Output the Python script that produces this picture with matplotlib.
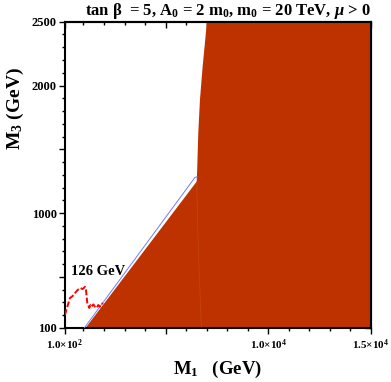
import matplotlib
matplotlib.use("Agg")
import matplotlib.pyplot as plt
from matplotlib.ticker import FixedLocator, FixedFormatter, MultipleLocator

plt.rcParams['font.family'] = ['Liberation Serif', 'DejaVu Serif']
plt.rcParams['font.weight'] = 'bold'
plt.rcParams['mathtext.fontset'] = 'custom'
plt.rcParams['mathtext.rm'] = 'Liberation Serif:bold'
plt.rcParams['mathtext.bf'] = 'Liberation Serif:bold'
plt.rcParams['mathtext.it'] = 'Liberation Serif:italic:bold'

# excluded region boundary (M1, M3) in GeV
region_m1 = [1100, 6513, 6542, 6591, 6672, 6802, 6963, 7000, 15000, 15000]
region_m3 = [100, 1247, 1363, 1629, 1888, 2147, 2414, 2500, 2500, 100]

# faint inner contour inside the region
inner_m1 = [6513, 6560, 6620, 6680, 6740]
inner_m3 = [1247, 900, 600, 350, 100]

# thin blue contour along the diagonal edge
blue_m1 = [1040, 6430, 6527]
blue_m3 = [100, 1280, 1284]

# m_h = 126 GeV contour
higgs_m1 = [100, 197, 343, 470, 587, 700, 830, 960, 1074, 1122, 1186, 1283,
            1340, 1400, 1480, 1561, 1643, 1720, 1804, 1880, 1950]
higgs_m3 = [202, 257, 335, 350, 374, 395, 414, 405, 422, 398, 296, 257,
            280, 267, 285, 267, 257, 280, 267, 285, 296]

x_ticks = [100, 5000, 10000, 15000]
x_labels = [r'1.0$\times$10$^{2}$', '', r'1.0$\times$10$^{4}$', r'1.5$\times$10$^{4}$']
y_ticks = [100, 500, 1000, 1500, 2000, 2500]
y_labels = ['100', '', '1000', '', '2000', '2500']

RED = '#BE3200'

fig = plt.figure(figsize=(3.91, 3.82), dpi=100)
ax = fig.add_axes([0.1662, 0.1414, 0.7826, 0.8018])

ax.fill(region_m1, region_m3, color=RED, lw=0, zorder=2)
ax.plot(inner_m1, inner_m3, color='#D05A30', lw=0.6, alpha=0.4, zorder=3)
ax.plot(blue_m1, blue_m3, color='#6F7CFF', lw=0.7, zorder=3)
ax.plot(higgs_m1, higgs_m3, color='#FF0000', lw=1.4, ls=(0, (3, 1.2)), zorder=4)

ax.text(1700, 545, '126 GeV', fontsize=10.5, fontweight='bold',
        ha='center', va='center', zorder=5)

ax.set_xlim(100, 15000)
ax.set_ylim(100, 2500)

ax.xaxis.set_major_locator(FixedLocator(x_ticks))
ax.xaxis.set_major_formatter(FixedFormatter(x_labels))
ax.xaxis.set_minor_locator(MultipleLocator(1000))
ax.yaxis.set_major_locator(FixedLocator(y_ticks))
ax.yaxis.set_major_formatter(FixedFormatter(y_labels))
ax.yaxis.set_minor_locator(MultipleLocator(100))

ax.tick_params(which='both', direction='out', width=1.0, pad=2)
ax.tick_params(axis='y', labelsize=9)
ax.tick_params(axis='x', labelsize=8, pad=3)
ax.tick_params(which='major', length=4)
ax.tick_params(which='minor', length=2)
for lab in ax.get_xticklabels() + ax.get_yticklabels():
    lab.set_fontweight('bold')

# mirrored inward ticks on top and right
top = ax.secondary_xaxis('top')
top.xaxis.set_major_locator(FixedLocator(x_ticks))
top.xaxis.set_minor_locator(MultipleLocator(1000))
top.tick_params(which='both', direction='in', labeltop=False, width=1.0)
top.tick_params(which='major', length=4)
top.tick_params(which='minor', length=2)
right = ax.secondary_yaxis('right')
right.yaxis.set_major_locator(FixedLocator(y_ticks))
right.yaxis.set_minor_locator(MultipleLocator(100))
right.tick_params(which='both', direction='in', labelright=False, width=1.0)
right.tick_params(which='major', length=4)
right.tick_params(which='minor', length=2)

for sp in list(ax.spines.values()):
    sp.set_linewidth(1.5)
top.spines['top'].set_linewidth(1.5)
right.spines['right'].set_linewidth(1.5)

ax.set_xlabel(r'M$_1$   (GeV)', fontsize=13.5, fontweight='bold', labelpad=5)
fig.text(0.04, 0.715, r'M$_3$ (GeV)', fontsize=14, fontweight='bold',
         rotation=90, ha='center', va='center')

fig.text(0.949, 0.972, r'tan β  = 5, A$_0$ = 2 m$_0$, m$_0$ = 20 TeV, $\mu$ > 0',
         fontsize=12, fontweight='bold', ha='right', va='center')

fig.savefig('out.png', dpi=100)
